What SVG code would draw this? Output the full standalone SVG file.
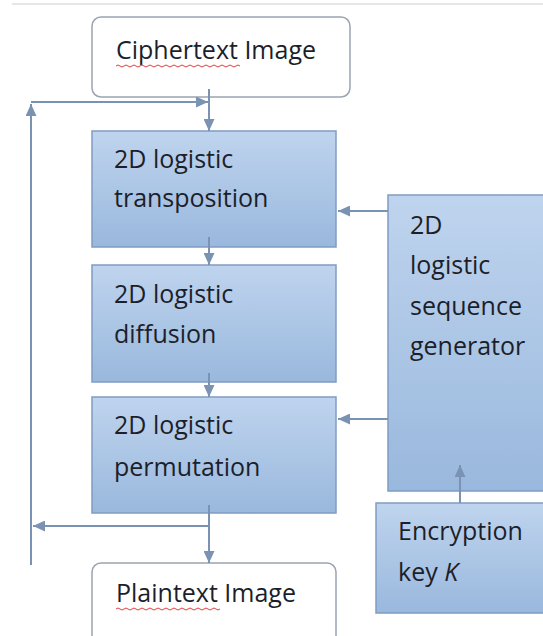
<svg xmlns="http://www.w3.org/2000/svg" width="543" height="636" viewBox="0 0 543 636">
<style>
.box{stroke:#7f9cc2;stroke-width:1.5;fill:url(#blue)}
.rbox{stroke:#9aa4b0;stroke-width:1.5;fill:#fff}
.t{font-family:"Open Sans","Liberation Sans",sans-serif;font-size:25px;fill:#1c1f2a}
.c{stroke:#7b93b2;stroke-width:2;fill:none}
.a{marker-end:url(#arr)}
.spell{stroke:#e04040;stroke-width:1;fill:none}
</style>
<defs>
<linearGradient id="blue" x1="0" y1="0" x2="0" y2="1">
<stop offset="0" stop-color="#bfd4ee"/>
<stop offset="1" stop-color="#99b8dd"/>
</linearGradient>
<marker id="arr" viewBox="0 0 12 11" refX="12" refY="5.5" markerWidth="12" markerHeight="11" markerUnits="userSpaceOnUse" orient="auto">
<path d="M0,0 L12,5.5 L0,11 z" fill="#7b93b2"/>
</marker>
</defs>
<rect width="543" height="636" fill="#fff"/>
<line x1="12" y1="4" x2="543" y2="4" stroke="#e6e6e6" stroke-width="2"/>

<g id="ciphertext">
<rect class="rbox" x="92" y="17" width="258" height="80" rx="9"/>
<text class="t" x="116" y="59" fill="#2a2a2a">Ciphertext Image</text>
<path class="spell" d="M116,66 q2,-2 4,0 t4,0 t4,0 t4,0 t4,0 t4,0 t4,0 t4,0 t4,0 t4,0 t4,0 t4,0 t4,0 t4,0 t4,0 t4,0 t4,0 t4,0 t4,0 t4,0 t4,0 t4,0 t4,0 t4,0 t4,0 t4,0 t4,0 t4,0 t4,0 t4,0 t4,0"/>
</g>

<g id="transposition">
<rect class="box" x="92" y="131" width="244" height="116"/>
<text class="t" x="114" y="168">2D logistic</text>
<text class="t" x="114" y="207">transposition</text>
</g>

<g id="diffusion">
<rect class="box" x="92" y="265" width="244" height="117"/>
<text class="t" x="114" y="303">2D logistic</text>
<text class="t" x="114" y="343">diffusion</text>
</g>

<g id="permutation">
<rect class="box" x="92" y="397" width="244" height="116"/>
<text class="t" x="114" y="434">2D logistic</text>
<text class="t" x="114" y="476">permutation</text>
</g>

<g id="plaintext">
<rect class="rbox" x="92" y="563" width="244" height="90" rx="9"/>
<text class="t" x="116" y="602" fill="#2a2a2a">Plaintext Image</text>
<path class="spell" d="M116,609 q2,-2 4,0 t4,0 t4,0 t4,0 t4,0 t4,0 t4,0 t4,0 t4,0 t4,0 t4,0 t4,0 t4,0 t4,0 t4,0 t4,0 t4,0 t4,0 t4,0 t4,0 t4,0 t4,0 t4,0 t4,0 t4,0 t4,0"/>
</g>

<g id="generator">
<rect class="box" x="388" y="195" width="160" height="296"/>
<text class="t" x="410" y="234">2D</text>
<text class="t" x="410" y="274">logistic</text>
<text class="t" x="410" y="315">sequence</text>
<text class="t" x="410" y="355">generator</text>
</g>

<g id="key">
<rect class="box" x="376" y="503" width="172" height="110"/>
<text class="t" x="398" y="540">Encryption</text>
<text class="t" x="398" y="581">key <tspan font-style="italic">K</tspan></text>
</g>

<g id="connectors">
<path class="c a" d="M209,89 V131"/>
<path class="c a" d="M31,102 H208"/>
<path class="c a" d="M31,565 V104"/>
<path class="c a" d="M209,237 V265"/>
<path class="c a" d="M209,373 V397"/>
<path class="c a" d="M209,505 V563"/>
<path class="c a" d="M209,526 H33"/>
<path class="c a" d="M388,211 H338"/>
<path class="c a" d="M388,419 H338"/>
<path class="c a" d="M460,503 V465"/>
</g>
</svg>
